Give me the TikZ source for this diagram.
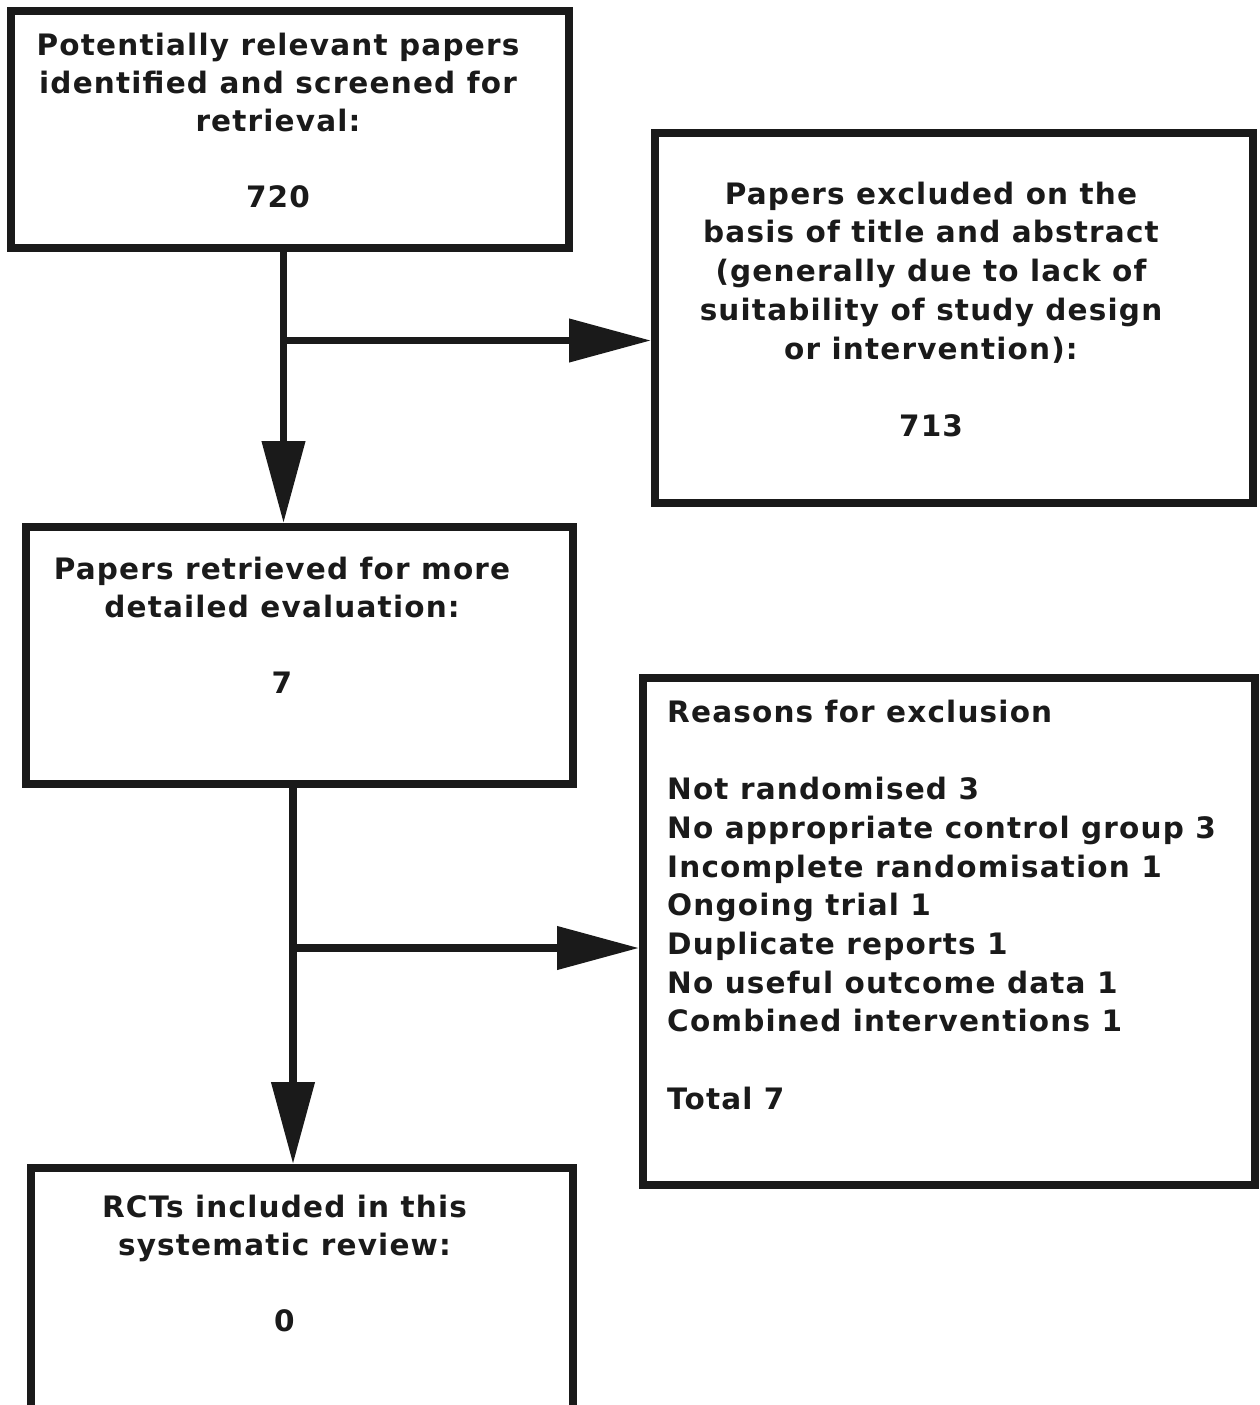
\documentclass[tikz,border=0pt]{standalone}
\usepackage{fontspec}
\setmainfont{DejaVu Sans}
\newfontfamily\boxfont[LetterSpace=4]{DejaVu Sans}
\usetikzlibrary{arrows.meta}
\definecolor{ink}{RGB}{26,26,26}
\newcommand{\fstrut}{\rule{0pt}{30pt}}
\begin{document}
\begin{tikzpicture}[x=1pt,y=-1pt,
  box/.style={draw=ink, line width=8pt, inner sep=0pt},
  txt/.style={inner sep=0pt, text=ink, font=\boxfont\bfseries\fontsize{29.5pt}{38pt}\selectfont, align=center, anchor=north},
  widetxt/.style={txt, font=\boxfont\bfseries\fontsize{29.5pt}{38.7pt}\selectfont},
  arr/.style={draw=ink, line width=7.5pt, -{Triangle[length=82pt,width=42pt]}}]
\useasboundingbox (0,0) rectangle (1260,1405);
\clip (0,0) rectangle (1260,1405);
\fill[white] (0,0) rectangle (1260,1405);
% boxes
\node[box, minimum width=558pt, minimum height=237pt] (b1) at (290,129.5) {};
\node[box, minimum width=598pt, minimum height=370pt] (b2) at (954,318) {};
\node[box, minimum width=547pt, minimum height=257pt] (b3) at (299.5,655.5) {};
\node[box, minimum width=612pt, minimum height=507pt] (b4) at (949,931.5) {};
\node[box, minimum width=542pt, minimum height=258pt] (b5) at (302,1297) {};
% texts
\node[txt] (t1) at (278,25) {\fstrut Potentially relevant papers\\identified and screened for\\retrieval:\\~\\720};
\node[widetxt] (t2) at (931,174) {\fstrut Papers excluded on the\\basis of title and abstract\\(generally due to lack of\\suitability of study design\\or intervention):\\~\\713};
\node[txt] (t3) at (282,549) {\fstrut Papers retrieved for more\\detailed evaluation:\\~\\7};
\node[widetxt, align=left, anchor=north west] (t4) at (667,692) {\fstrut Reasons for exclusion\\~\\Not randomised 3\\No appropriate control group 3\\Incomplete randomisation 1\\Ongoing trial 1\\Duplicate reports 1\\No useful outcome data 1\\Combined interventions 1\\~\\Total 7};
\node[txt] (t5) at (284.5,1187) {\fstrut RCTs included in this\\systematic review:\\~\\0};
% connectors
\coordinate (j1) at (283.5,340.5);
\coordinate (j2) at (293,948);
\draw[arr] (j1 |- b1.south) -- (j1 |- b3.north);
\draw[arr] (j1) -- (j1 -| b2.west);
\draw[arr] (j2 |- b3.south) -- (j2 |- b5.north);
\draw[arr] (j2) -- (j2 -| b4.west);
\end{tikzpicture}
\end{document}
